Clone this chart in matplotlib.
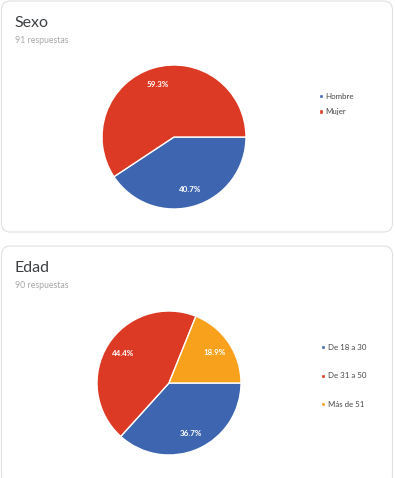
import matplotlib
matplotlib.use("Agg")
import matplotlib.pyplot as plt
from matplotlib.patches import FancyBboxPatch

W, H = 395, 478

sexo_labels = ["Hombre", "Mujer"]
sexo_values = [40.7, 59.3]
sexo_colors = ["#3e66b0", "#dc3a24"]

edad_labels = ["De 18 a 30", "De 31 a 50", "Más de 51"]
edad_values = [36.7, 44.4, 18.9]
edad_colors = ["#3e66b0", "#dc3a24", "#f8a11c"]

plt.rcParams["font.family"] = ["Lato", "DejaVu Sans"]

fig = plt.figure(figsize=(W / 100, H / 100), dpi=100)
bg = fig.add_axes([0, 0, 1, 1])
bg.set_xlim(0, W)
bg.set_ylim(H, 0)
bg.axis("off")


def card(y0, y1, title, subtitle):
    box = FancyBboxPatch((1.5, y0), W - 4, y1 - y0,
                         boxstyle="round,pad=0,rounding_size=9",
                         fc="white", ec="#e0e0e0", lw=0.8)
    bg.add_patch(box)
    bg.text(14, y0 + 22, title, fontsize=11.5, color="#3c4043", va="center")
    bg.text(15, y0 + 39, subtitle, fontsize=6.3, color="#a8a8a8", va="center")


def pie(cx, cy, r, values, colors, labels, leg_x, leg_y, spacing):
    ax = fig.add_axes([(cx - r) / W, (H - cy - r) / H, 2 * r / W, 2 * r / H])
    wedges, _, autotexts = ax.pie(values, colors=colors, startangle=0,
                                  counterclock=False, autopct="%.1f%%",
                                  pctdistance=0.76,
                                  wedgeprops=dict(edgecolor="white", linewidth=1))
    for t in autotexts:
        t.set_color("white")
        t.set_fontsize(5.8)
        t.set_fontweight("bold")
    ax.set_xlim(-1, 1)
    ax.set_ylim(-1, 1)
    ax.set_aspect("equal")
    ax.axis("off")
    fig.legend(wedges, labels, loc="center left",
               bbox_to_anchor=(leg_x / W, 1 - leg_y / H),
               frameon=False, fontsize=5.7, labelcolor="#444444",
               handlelength=0.45, handleheight=0.45, handletextpad=0.4,
               labelspacing=spacing, borderpad=0, borderaxespad=0)


card(1, 232, "Sexo", "91 respuestas")
card(246, 485, "Edad", "90 respuestas")

pie(174, 137, 72, sexo_values, sexo_colors, sexo_labels, 319, 104, 1.1)
pie(169, 383, 72, edad_values, edad_colors, edad_labels, 321, 376, 2.7)

fig.savefig("out.png", dpi=100)
